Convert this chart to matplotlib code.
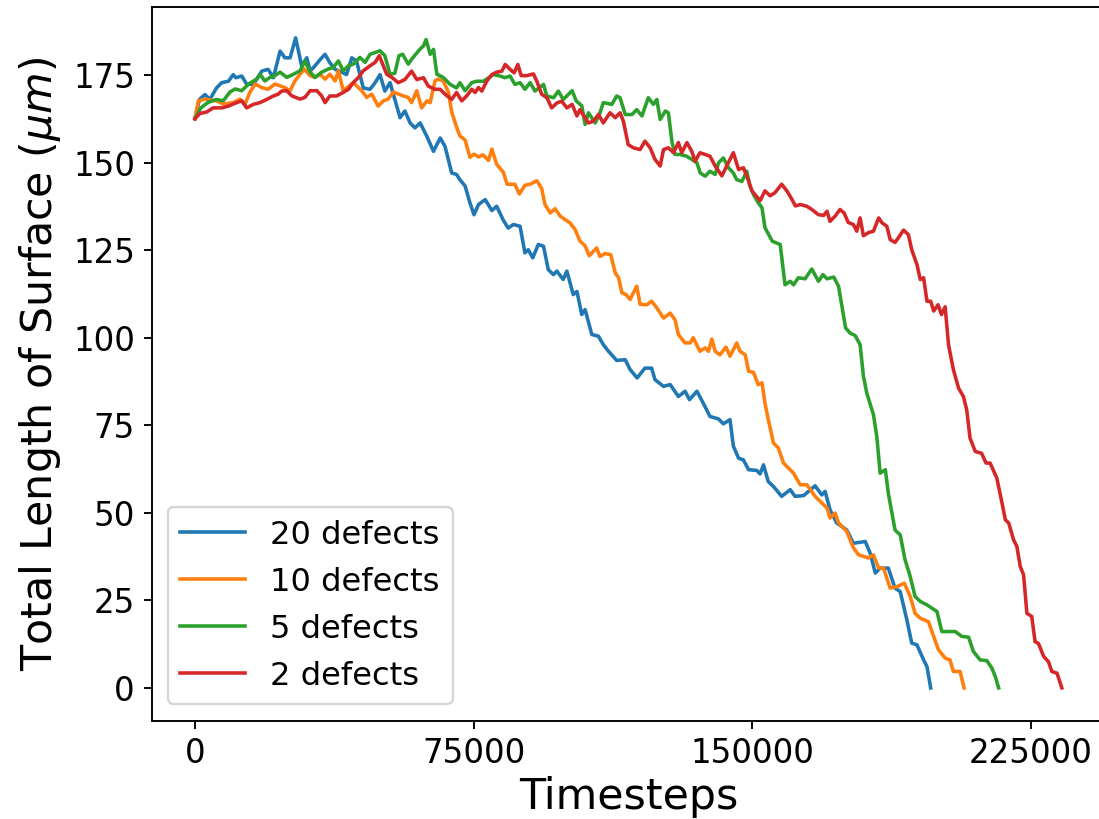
import numpy as np
import matplotlib
matplotlib.use("Agg")
import matplotlib.pyplot as plt

# timesteps are given in thousands
t_20 = [0, 1.2, 2.7, 4.0, 5.8, 7.2, 9.0, 10.3, 11.0, 12.6, 13.9, 15.7, 18.0, 19.7, 21.1, 22.9,
        24.2, 25.6, 27.1, 28.7, 30.1, 31.0, 32.3, 33.7, 35.0, 36.3, 37.7, 39.0, 40.8, 42.2,
        43.5, 45.3, 47.1, 48.5, 49.8, 51.1, 52.5, 53.8, 55.2, 56.5, 57.9, 59.2, 60.6, 62.4,
        64.2, 66.0, 67.3, 69.1, 70.4, 71.3, 72.7, 74.0, 75.1, 76.3, 78.1, 79.9, 81.2, 83.0,
        84.3, 85.7, 87.5, 88.8, 89.7, 90.9, 92.4, 93.8, 95.1, 96.5, 97.4, 99.1, 100.1, 101.8,
        102.8, 104.1, 105.0, 106.8, 108.6, 109.9, 111.3, 113.5, 115.8, 117.1, 119.0, 121.1,
        122.9, 123.8, 126.1, 127.9, 130.1, 131.9, 133.1, 135.1, 136.8, 138.6, 140.9, 142.2,
        144.0, 144.9, 146.3, 147.6, 149.0, 151.2, 152.1, 153.0, 154.3, 155.7, 157.9, 160.2,
        161.5, 163.8, 165.1, 166.9, 168.7, 169.6, 170.9, 172.7, 175.4, 177.2, 180.4, 181.7,
        183.1, 184.4, 186.6, 188.4, 189.8, 191.6, 192.9, 194.3, 196.1, 197.0, 198.0]
len_20 = [162.5, 168, 169.4, 168, 171.3, 172.8, 173.2, 175.1, 174.2, 174.7, 172.4, 172.3, 176.1,
          176.6, 174.2, 181.8, 179.9, 179.9, 185.6, 177.6, 179.9, 176.1, 177.6, 179.4, 180.9,
          178.5, 176.6, 176.1, 175.1, 179.9, 178.9, 171.3, 170.9, 172.8, 175.1, 170.4, 172.8,
          168, 162.8, 164.7, 161.3, 159.9, 161.3, 157.5, 153.2, 157, 154.6, 147, 146.6, 145.1,
          143.3, 138.5, 135.1, 138, 139.4, 136.3, 137.5, 133.5, 131.3, 132.3, 131.8, 124.2,
          125.1, 122.8, 126.6, 126.1, 119.4, 118, 119, 116.6, 119, 112.3, 113.2, 106.6, 108,
          100.9, 100.4, 98, 96.1, 93.5, 93.7, 90.9, 88.5, 91.3, 91.3, 88, 86.1, 86.6, 83.2,
          84.7, 82.3, 84.7, 81.3, 77.5, 76.8, 75.4, 76.6, 69, 65.6, 65.1, 62.3, 62.1, 61.1,
          63.7, 58.9, 57.5, 54.7, 56.6, 54.7, 54.9, 56.1, 57.7, 55.1, 56.1, 50.9, 47.1, 45.1,
          41.3, 41.8, 38.5, 32.8, 34.2, 34.2, 28.5, 27.5, 19.4, 12.8, 12.3, 8, 6.1, 0]

t_10 = [0, 0.9, 2.7, 5.8, 7.6, 10.3, 12.1, 13.5, 14.8, 16.2, 18.0, 19.7, 21.5, 22.9, 24.2, 25.6,
        26.9, 28.3, 29.4, 31.0, 32.3, 33.7, 35.0, 36.3, 37.7, 38.6, 39.9, 42.6, 44.0, 44.9,
        46.2, 47.6, 49.3, 50.7, 52.0, 53.4, 56.1, 57.4, 58.3, 59.7, 61.0, 62.4, 63.3, 64.6,
        65.5, 66.8, 68.2, 69.1, 70.4, 71.3, 72.7, 74.0, 75.1, 76.3, 77.5, 79.0, 79.9, 81.2,
        83.0, 84.0, 86.1, 87.3, 88.8, 90.2, 92.0, 93.3, 94.2, 95.6, 96.9, 98.3, 99.6, 100.9,
        102.3, 103.6, 105.0, 106.1, 108.1, 109.0, 110.4, 111.9, 113.1, 114.0, 114.9, 116.0,
        117.1, 118.9, 119.8, 121.6, 122.9, 124.3, 126.1, 127.9, 129.2, 130.1, 131.9, 133.3,
        134.1, 135.9, 137.3, 138.2, 139.1, 140.0, 141.3, 142.9, 144.0, 145.8, 146.7, 148.1,
        149.0, 150.3, 151.6, 152.6, 153.4, 154.3, 155.7, 157.0, 158.4, 159.7, 161.1, 162.9,
        164.7, 166.9, 168.7, 170.1, 170.9, 172.3, 173.2, 175.4, 177.2, 178.6, 181.3, 182.6,
        184.0, 185.3, 187.1, 188.9, 190.9, 192.5, 193.8, 195.2, 197.4, 198.8, 200.1, 201.9,
        203.2, 204.1, 205.9, 207.0]
len_10 = [162.5, 167.6, 168.1, 167.6, 166.7, 167.1, 168.1, 166.7, 170.1, 172.4, 171.4, 170.9,
          172.4, 171.9, 171.4, 170.5, 173.3, 175.2, 176.7, 174.8, 174.3, 175.2, 173.8, 175.2,
          173.3, 176.2, 170.5, 172.8, 171.4, 170.5, 168.6, 169.5, 166.1, 167.6, 168.1, 170.1,
          169, 168.6, 167.1, 170.5, 165.6, 167.6, 167.1, 173.3, 173.8, 173.3, 170.1, 164.4,
          160.1, 157.6, 156.4, 151.5, 152.4, 151.6, 152.2, 150.6, 153.8, 149.5, 147.2, 143.8,
          143.8, 141, 143.5, 143.8, 144.8, 142.6, 138, 135.6, 136.8, 134.7, 133.7, 132.8,
          130.9, 127.6, 126.2, 123.4, 125.6, 123.2, 124, 123.7, 118.5, 117.1, 112.8, 112.3,
          110.9, 114.7, 109.5, 109.4, 110.4, 108.5, 105.6, 107, 105.1, 100.9, 98.5, 98.5, 100,
          96.1, 97.1, 96.1, 99.6, 96.1, 95.1, 97.3, 94.7, 98.5, 96.1, 95.1, 90.4, 90.1, 86.6,
          87.1, 81.3, 76.6, 69.9, 68.5, 64.2, 62.8, 61.3, 58, 58, 54.7, 52.8, 51.4, 48.5, 49.9,
          47.1, 44.7, 40, 38, 37.1, 38, 34.2, 34.2, 28.5, 28.9, 29.9, 26.1, 21.3, 19.9, 18.9,
          14.7, 10.9, 8.5, 8, 4.7, 4.7, 0]

t_5 = [0, 1.6, 3.4, 5.8, 7.6, 9.4, 10.8, 12.6, 14.4, 16.6, 17.5, 18.8, 20.2, 21.5, 22.9, 24.7,
       26.5, 28.3, 29.6, 31.0, 32.3, 34.1, 35.9, 37.2, 38.6, 39.9, 41.3, 42.6, 44.4, 45.8, 47.1,
       48.5, 49.8, 51.1, 52.5, 53.8, 54.9, 55.9, 57.4, 58.7, 60.6, 61.5, 62.2, 63.3, 64.2, 65.1,
       66.8, 68.7, 70.4, 71.3, 72.7, 74.5, 75.8, 77.6, 79.0, 80.3, 82.1, 83.4, 84.8, 86.1, 87.5,
       88.8, 90.2, 91.5, 92.7, 93.8, 94.7, 96.5, 97.8, 99.1, 101.5, 102.6, 104.1, 105.0, 105.9,
       107.7, 109.0, 109.9, 112.2, 113.5, 114.4, 115.8, 117.6, 118.9, 120.3, 122.0, 123.4,
       124.3, 125.2, 126.6, 127.4, 128.4, 129.2, 130.6, 132.3, 133.7, 135.1, 136.0, 137.3,
       138.6, 140.0, 140.9, 142.2, 143.6, 144.9, 145.8, 147.2, 148.5, 149.4, 150.3, 151.6,
       152.6, 153.4, 155.4, 157.5, 158.8, 160.2, 161.1, 162.4, 164.2, 166.0, 167.8, 169.0,
       170.1, 171.9, 173.2, 175.1, 176.3, 177.7, 179.0, 179.9, 180.8, 182.6, 183.5, 184.4,
       185.8, 186.6, 188.4, 189.8, 191.1, 192.5, 193.8, 195.2, 197.0, 198.3, 199.7, 201.0,
       204.6, 206.4, 208.2, 209.5, 211.3, 213.1, 214.5, 215.4, 216.3]
len_5 = [162.5, 165.6, 167.1, 168, 167.6, 170.1, 171, 170.5, 172.4, 173.8, 175.2, 173.3, 174.3,
         174.8, 175.8, 174.3, 175.2, 176.2, 179, 175.8, 174.3, 175.8, 176.7, 177.1, 179, 176.2,
         177.6, 178.1, 180, 178.6, 180.9, 181.4, 181.9, 180.5, 175.2, 175.5, 180.5, 180.9,
         178.1, 180, 182.4, 183.3, 185.1, 180.9, 182.3, 175.2, 174.3, 172.3, 171.3, 172.8,
         170.5, 172.8, 173.2, 173.2, 174.2, 175.1, 174.7, 174.2, 174.7, 172.3, 172.8, 170.9,
         172.8, 170.4, 171.4, 172.3, 169, 168.5, 170.4, 168, 170.5, 167.6, 166.2, 160.9, 164.2,
         161.3, 164.2, 167.1, 166.6, 169, 168.5, 163.7, 163.7, 165.1, 163.3, 168.5, 166.6, 168,
         162.3, 164.7, 164.2, 155.7, 152.3, 152.3, 151.8, 150.9, 149.9, 147, 146.1, 147.5,
         146.6, 149.9, 151.3, 148.5, 147, 145.1, 144.6, 147.5, 143.2, 140.9, 138.5, 137.1,
         131.4, 127.5, 126.6, 115.1, 116.1, 115.1, 117.1, 116.8, 119.6, 116.1, 118, 116.8,
         117.3, 114.7, 102.8, 101.3, 100.6, 98, 89, 84.2, 78, 71.8, 61.3, 62.3, 55.6, 45.1,
         43.7, 36.6, 31.8, 26.1, 24.7, 23.7, 22.8, 21.8, 16.1, 16.1, 14.7, 14.5, 10.4, 8, 7.8,
         5.6, 3.2, 0]

t_2 = [0, 1.3, 3.1, 4.9, 7.2, 9.0, 11.2, 12.6, 13.9, 15.7, 17.5, 19.3, 21.1, 22.4, 23.3, 24.7,
       26.1, 28.3, 29.6, 31.0, 32.8, 34.1, 35.0, 36.3, 38.1, 39.9, 41.3, 42.6, 44.0, 45.3, 47.1,
       48.5, 49.6, 50.7, 51.6, 53.0, 54.7, 56.5, 58.3, 59.7, 61.5, 62.8, 64.6, 66.0, 67.3, 69.1,
       70.4, 71.8, 73.1, 74.5, 75.4, 76.3, 77.2, 78.5, 79.9, 81.2, 82.6, 83.5, 84.8, 85.9, 86.9,
       87.8, 89.3, 91.1, 92.0, 93.3, 94.7, 96.0, 97.4, 98.7, 100.1, 101.5, 102.8, 103.6, 105.0,
       105.9, 107.2, 108.6, 109.9, 111.7, 113.1, 114.4, 115.3, 116.6, 118.0, 119.8, 121.1,
       122.5, 123.8, 125.2, 126.1, 127.4, 128.8, 130.1, 131.0, 132.4, 133.7, 134.6, 135.9,
       137.3, 138.6, 140.0, 141.8, 143.1, 144.9, 146.3, 147.6, 148.5, 149.9, 152.1, 153.4,
       154.8, 156.1, 157.9, 159.3, 160.7, 161.6, 162.9, 164.7, 166.0, 167.8, 169.2, 170.1,
       170.9, 172.3, 173.6, 174.7, 175.8, 177.2, 178.1, 179.0, 179.9, 181.3, 182.6, 184.0,
       184.9, 186.2, 187.1, 188.4, 189.3, 190.7, 192.0, 192.9, 194.3, 195.2, 196.1, 197.0,
       198.0, 198.8, 200.0, 200.9, 201.9, 202.8, 204.1, 205.5, 206.8, 207.7, 208.6, 210.0,
       211.7, 212.9, 214.0, 215.8, 217.2, 218.1, 219.0, 220.3, 221.2, 222.1, 223.0, 223.9,
       225.2, 226.1, 227.0, 228.4, 229.7, 230.6, 232.0, 233.3]
len_2 = [162.5, 164, 164.4, 165.6, 165.6, 166.1, 167.1, 167.6, 165.6, 166.6, 167.1, 168, 169,
         169.5, 170.4, 170.5, 169, 168.1, 168.6, 170.5, 170.5, 169, 167.1, 169, 169, 170, 170.9,
         172.8, 174.3, 176.2, 177.6, 178.6, 180.5, 177.6, 175.2, 174.3, 172.8, 173.7, 176.1,
         173.7, 174.2, 171.8, 170.9, 170.9, 169.5, 168, 170, 167.6, 169, 170.9, 170, 171.4,
         170.4, 173.2, 175.1, 175.8, 176.1, 178, 176.6, 175.6, 178, 174.8, 174.8, 175.3, 173.2,
         169.5, 168.5, 165.6, 167, 167.5, 165.6, 166.6, 163.3, 165.1, 162.8, 161.3, 161.8,
         163.7, 161.3, 164.2, 162.8, 164.2, 161.8, 155.1, 154.2, 153.7, 156.1, 154.2, 150.9,
         149, 153.7, 154.2, 152.8, 155.7, 152.8, 155.7, 153.2, 150.4, 152.8, 152.3, 151.8, 149,
         146.2, 149, 152.8, 148, 148.5, 146.2, 141.9, 139.1, 141.9, 140.5, 141.4, 143.8, 141.9,
         139.4, 137.6, 138, 137.5, 136.6, 135.1, 134.9, 136.1, 133.2, 134.7, 136.6, 135.6,
         132.9, 132.3, 130.4, 134.2, 129.1, 130, 130.4, 134.2, 132.8, 131.8, 128, 127.2, 128.5,
         130.7, 129.4, 125.1, 120.9, 116.6, 117.1, 110.4, 110.4, 107.6, 109.4, 106.6, 108.8,
         98, 90.9, 85.6, 83.2, 79.4, 71.3, 67.5, 67, 64.2, 64.2, 59.9, 52.8, 48, 47.1, 42.3,
         40.4, 34.7, 32.3, 21.3, 20.4, 13.2, 12.7, 9, 7.5, 4.7, 4.2, 0]

labels = ["20 defects", "10 defects", "5 defects", "2 defects"]
x_ticks = [0, 75000, 150000, 225000]
y_ticks = [0, 25, 50, 75, 100, 125, 150, 175]

dpi = 171
fig = plt.figure(figsize=(1099 / dpi, 819 / dpi), dpi=dpi)
ax = fig.add_axes([151.6 / 1099, 1 - 720.5 / 819, 953.6 / 1099, 713.5 / 819])

series = [(t_20, len_20), (t_10, len_10), (t_5, len_5), (t_2, len_2)]
for (t, l), lab in zip(series, labels):
    ax.plot(np.array(t) * 1000, l, label=lab)

ax.set_xlim(-11670, 244970)
ax.set_ylim(-9.3, 194.4)
ax.set_xticks(x_ticks)
ax.set_yticks(y_ticks)
ax.tick_params(labelsize=13.7)
ax.set_xlabel("Timesteps", fontsize=18, labelpad=2.5)
ax.set_ylabel(r"Total Length of Surface ($\mu m$)", fontsize=18)
ax.legend(loc="lower left", fontsize=13.5)

fig.savefig("out.png", dpi=dpi)
